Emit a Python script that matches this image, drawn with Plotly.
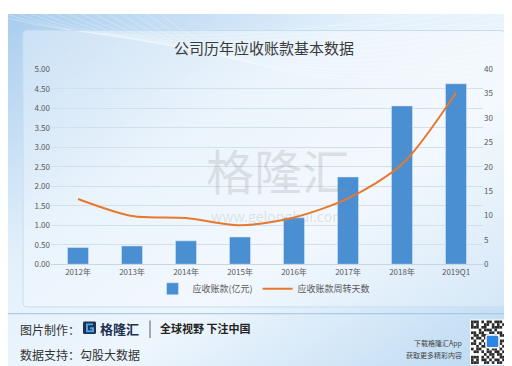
import base64
import plotly.graph_objects as go

categories = ["2012年", "2013年", "2014年", "2015年", "2016年", "2017年", "2018年", "2019Q1"]
receivables = [0.43, 0.47, 0.60, 0.70, 1.19, 2.24, 4.06, 4.63]
turnover_days = [13.4, 9.9, 9.5, 8.0, 9.6, 13.5, 20.5, 35.2]
left_ticks = [0, 0.5, 1, 1.5, 2, 2.5, 3, 3.5, 4, 4.5, 5]
right_ticks = [0, 5, 10, 15, 20, 25, 30, 35, 40]

FONT = "Noto Sans CJK SC"

# decorative background (gradient, swooshes, panel, footer bits)
lines = "".join(
    f'<path d="M{-40+i*14},{-10} Q{120+i*10},{60+i*3} {520},{-20+i*6}" stroke="white" stroke-opacity="0.35" fill="none" stroke-width="0.8"/>'
    for i in range(14)
)
qr = ""
pattern = [
    "1110101101110111",
    "1010011010101101",
    "1110110011110111",
    "0001011101000000",
    "1101100110110101",
    "0110111001011010",
    "1011010110100111",
    "0100101101011001",
    "1101011010110110",
    "0010110101101011",
    "1011001011010100",
    "0110101101101011",
    "0000010110110101",
    "1110101010011010",
    "1010110101101101",
    "1110011010110110",
]
for r, row in enumerate(pattern):
    for c, ch in enumerate(row):
        if ch == "1":
            qr += f'<rect x="{463+c*2.6:.1f}" y="{316+r*2.8:.1f}" width="2.6" height="2.8" fill="#2a2a2a"/>'
svg = f'''<svg xmlns="http://www.w3.org/2000/svg" width="512" height="366" viewBox="0 0 512 366">
<defs>
<linearGradient id="g" x1="0" y1="0" x2="1" y2="1">
<stop offset="0" stop-color="#a9cdee"/>
<stop offset="0.35" stop-color="#e3f0fb"/>
<stop offset="0.6" stop-color="#eef6fd"/>
<stop offset="1" stop-color="#b9d8f2"/>
</linearGradient>
<linearGradient id="p" x1="0" y1="0" x2="0" y2="1">
<stop offset="0" stop-color="#ffffff" stop-opacity="0.35"/>
<stop offset="1" stop-color="#ffffff" stop-opacity="0.25"/>
</linearGradient>
</defs>
<rect width="512" height="366" fill="url(#g)"/>
{lines}
<rect x="15" y="17" width="482" height="285" rx="4" fill="url(#p)" stroke="#c5dcef" stroke-width="1"/>
<line x1="0" y1="309" x2="512" y2="309" stroke="#9cc3e6" stroke-width="1"/>
<rect x="75" y="317" width="13" height="13" rx="1.5" fill="#1d3150"/>
<path d="M85,320 L79,320 L79,327 L85,327 L85,324 L82,324" stroke="#4aa3e8" stroke-width="2" fill="none"/>
<line x1="142" y1="316" x2="142" y2="334" stroke="#333" stroke-width="0.8"/>
<rect x="462" y="315" width="44" height="47" fill="white"/>
{qr}
<rect x="478" y="331" width="13" height="13" rx="2" fill="#2f86e0" stroke="white" stroke-width="1.5"/>
</svg>'''
src = "data:image/svg+xml;base64," + base64.b64encode(svg.encode()).decode()

fig = go.Figure()
fig.add_trace(go.Bar(
    x=categories, y=receivables, name="应收账款(亿元)",
    marker=dict(color="#4b8fd3"), yaxis="y",
))
fig.add_trace(go.Scatter(
    x=categories, y=turnover_days, name="应收账款周转天数",
    mode="lines", line=dict(color="#e8782e", width=2, shape="spline", smoothing=0.8),
    yaxis="y2",
))

tickfont = dict(family=FONT, size=8, color="#595959")
fig.update_layout(
    width=512, height=366,
    margin=dict(l=0, r=0, t=0, b=0),
    paper_bgcolor="rgba(0,0,0,0)", plot_bgcolor="rgba(0,0,0,0)",
    bargap=0.61,
    showlegend=True,
    legend=dict(orientation="h", x=0.5, xanchor="center", y=0.226, yanchor="middle",
                font=dict(family=FONT, size=9, color="#595959"),
                bgcolor="rgba(0,0,0,0)", itemwidth=30, tracegroupgap=0),
    xaxis=dict(domain=[43/512, 475/512], tickfont=tickfont, showgrid=False,
               showline=True, linecolor="#c9d6e2", ticks="", anchor="y"),
    yaxis=dict(domain=[1-258/366, 1-57/366], range=[0, 5], tickvals=left_ticks,
               tickformat=".2f", tickfont=tickfont, gridcolor="#d3dfea", gridwidth=1,
               zeroline=False, showline=False, ticks=""),
    yaxis2=dict(overlaying="y", side="right", range=[0, 40], tickvals=right_ticks,
                tickfont=tickfont, showgrid=False, zeroline=False, showline=False,
                anchor="x", ticks=""),
    images=[dict(source=src, xref="paper", yref="paper", x=0, y=1, sizex=1, sizey=1,
                 sizing="stretch", layer="below", xanchor="left", yanchor="top")],
)

ann = [
    dict(text="公司历年应收账款基本数据", x=256, y=35, size=15, color="#3a3a3a"),
    dict(text="格隆汇", x=270, y=160, size=48, color="rgba(140,140,140,0.22)"),
    dict(text="www.gelonghui.com", x=270, y=208, size=14, color="rgba(140,140,140,0.22)"),
    dict(text="图片制作：", x=10, y=325, size=12, color="#333333", anchor="left"),
    dict(text="<b>格隆汇</b>", x=90, y=324, size=13, color="#1d3150", anchor="left"),
    dict(text="<b>全球视野 下注中国</b>", x=150, y=324, size=11, color="#222222", anchor="left"),
    dict(text="数据支持：勾股大数据", x=10, y=351, size=12, color="#333333", anchor="left"),
    dict(text="下载格隆汇App", x=456, y=339, size=7, color="#444444", anchor="right"),
    dict(text="获取更多精彩内容", x=456, y=352, size=7, color="#444444", anchor="right"),
]
for a in ann:
    fig.add_annotation(
        text=a["text"], xref="paper", yref="paper",
        x=a["x"]/512, y=1-a["y"]/366, showarrow=False,
        xanchor=a.get("anchor", "center"), yanchor="middle",
        font=dict(family=FONT, size=a["size"], color=a["color"]),
    )

fig.write_html("out.html")
